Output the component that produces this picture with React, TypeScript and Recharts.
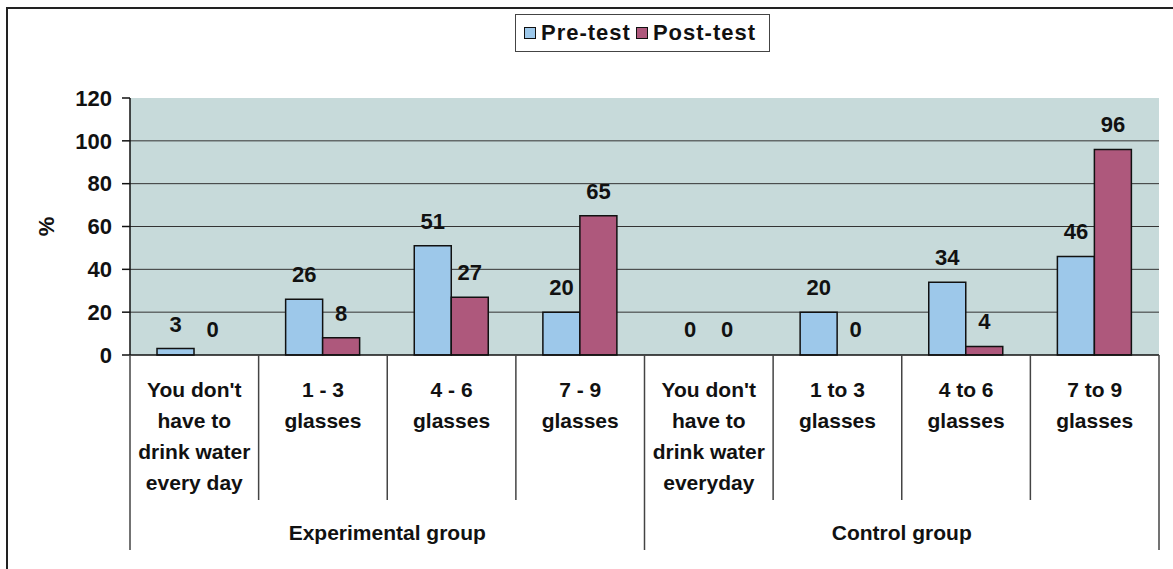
import { BarChart, Bar, XAxis, YAxis, CartesianGrid, Legend, LabelList, Rectangle } from "recharts";

const categories = [
  "You don't\nhave to\ndrink water\nevery day",
  "1 - 3\nglasses",
  "4 - 6\nglasses",
  "7 - 9\nglasses",
  "You don't\nhave to\ndrink water\neveryday",
  "1 to 3\nglasses",
  "4 to 6\nglasses",
  "7 to 9\nglasses",
];
const groups = ["Experimental group", "Control group"];
const seriesNames = ["Pre-test", "Post-test"];
const preTest = [3, 26, 51, 20, 0, 20, 34, 46];
const postTest = [0, 8, 27, 65, 0, 0, 4, 96];
const yTicks = [0, 20, 40, 60, 80, 100, 120];

const data = categories.map((name, i) => ({ name, pre: preTest[i], post: postTest[i] }));

const W = 1173;
const H = 569;
const MARGIN = { top: 98, right: 14, bottom: 0, left: 70 };
const Y_AXIS_W = 60;
const X_AXIS_H = H - 355;
const PLOT_W = W - MARGIN.left - MARGIN.right - Y_AXIS_W;
const PLOT_H = H - MARGIN.top - MARGIN.bottom - X_AXIS_H;
const PER_GROUP = categories.length / groups.length;
const FONT = "'Liberation Sans', Arial, sans-serif";

function CategoryTick(props: any) {
  const { x, y, payload, index } = props;
  const half = payload?.offset || PLOT_W / categories.length / 2;
  const lines = categories[index].split("\n");
  const first = index % PER_GROUP === 0;
  const last = index === categories.length - 1;
  return (
    <g>
      <line x1={x - half} x2={x - half} y1={y} y2={first ? y + 195 : y + 145} stroke="#444" strokeWidth={1.5} />
      {last && <line x1={x + half} x2={x + half} y1={y} y2={y + 195} stroke="#444" strokeWidth={1.5} />}
      <text x={x} y={y + 42} textAnchor="middle" fontFamily={FONT} fontWeight="bold" fontSize={21} fill="#111">
        {lines.map((l: string, i: number) => (
          <tspan key={i} x={x} dy={i === 0 ? 0 : 31}>
            {l}
          </tspan>
        ))}
      </text>
      {index % PER_GROUP === PER_GROUP / 2 - 1 && (
        <text x={x + half} y={y + 185} textAnchor="middle" fontFamily={FONT} fontWeight="bold" fontSize={21} fill="#111">
          {groups[Math.floor(index / PER_GROUP)]}
        </text>
      )}
    </g>
  );
}

function LegendBox(props: any) {
  const items = [...(props.payload || [])].sort(
    (a: any, b: any) => seriesNames.indexOf(a.value) - seriesNames.indexOf(b.value)
  );
  return (
    <div
      style={{
        display: "flex",
        alignItems: "center",
        justifyContent: "center",
        height: 38,
        border: "1.5px solid #444",
        background: "#fff",
        fontFamily: FONT,
        fontWeight: 700,
        fontSize: 22,
        letterSpacing: 1,
        color: "#111",
        boxSizing: "border-box",
      }}
    >
      {items.map((it: any) => (
        <span key={it.value} style={{ display: "flex", alignItems: "center", marginRight: 5 }}>
          <span style={{ width: 10, height: 10, background: it.color, border: "1.5px solid #111", marginRight: 5 }} />
          {it.value}
        </span>
      ))}
    </div>
  );
}

// hide zero-height bars but keep their labels
const BarShape = (p: any) => (p.value === 0 ? <g /> : <Rectangle {...p} />);

export default function App() {
  return (
    <div
      style={{
        position: "absolute",
        left: 0,
        top: 0,
        width: W,
        height: H,
        background: "#fff",
      }}
    >
      <div
        style={{
          position: "absolute",
          left: 6,
          top: 7,
          right: 0,
          bottom: 0,
          borderLeft: "2px solid #222",
          borderTop: "2px solid #222",
        }}
      />
      <BarChart width={W} height={H} data={data} margin={MARGIN} barCategoryGap="21%" barGap={0}>
        <CartesianGrid
          vertical={false}
          fill="#C7DADA"
          stroke="#333"
          strokeWidth={1}
          horizontalValues={yTicks.filter((v) => v > 0 && v < 120)}
        />
        <XAxis
          dataKey="name"
          height={X_AXIS_H}
          interval={0}
          tickSize={0}
          tickMargin={0}
          tick={<CategoryTick />}
          stroke="#111"
          strokeWidth={1.5}
        />
        <YAxis
          width={Y_AXIS_W}
          domain={[0, 120]}
          ticks={yTicks}
          interval={0}
          tickSize={8}
          tickMargin={10}
          stroke="#111"
          strokeWidth={1.5}
          tick={{ fontFamily: FONT, fontWeight: "bold", fontSize: 22, fill: "#111" }}
          label={{
            content: () => (
              <text
                x={MARGIN.left - 24}
                y={MARGIN.top + PLOT_H / 2}
                transform={`rotate(-90 ${MARGIN.left - 24} ${MARGIN.top + PLOT_H / 2})`}
                textAnchor="middle"
                dominantBaseline="central"
                fontFamily={FONT}
                fontWeight="bold"
                fontSize={22}
                fill="#111"
              >
                %
              </text>
            ),
          }}
        />
        <Legend
          layout="vertical"
          align="center"
          verticalAlign="middle"
          content={<LegendBox />}
          wrapperStyle={{ position: "absolute", left: 515, top: 14, width: 255, height: 38 }}
        />
        <Bar
          dataKey="pre"
          name="Pre-test"
          fill="#9DC8EA"
          stroke="#111"
          strokeWidth={1.5}
          minPointSize={1}
          shape={BarShape}
          isAnimationActive={false}
        >
          <LabelList dataKey="pre" position="top" offset={17} fill="#111" fontFamily={FONT} fontWeight="bold" fontSize={22} />
        </Bar>
        <Bar
          dataKey="post"
          name="Post-test"
          fill="#AE587C"
          stroke="#111"
          strokeWidth={1.5}
          minPointSize={1}
          shape={BarShape}
          isAnimationActive={false}
        >
          <LabelList dataKey="post" position="top" offset={17} fill="#111" fontFamily={FONT} fontWeight="bold" fontSize={22} />
        </Bar>
      </BarChart>
    </div>
  );
}
